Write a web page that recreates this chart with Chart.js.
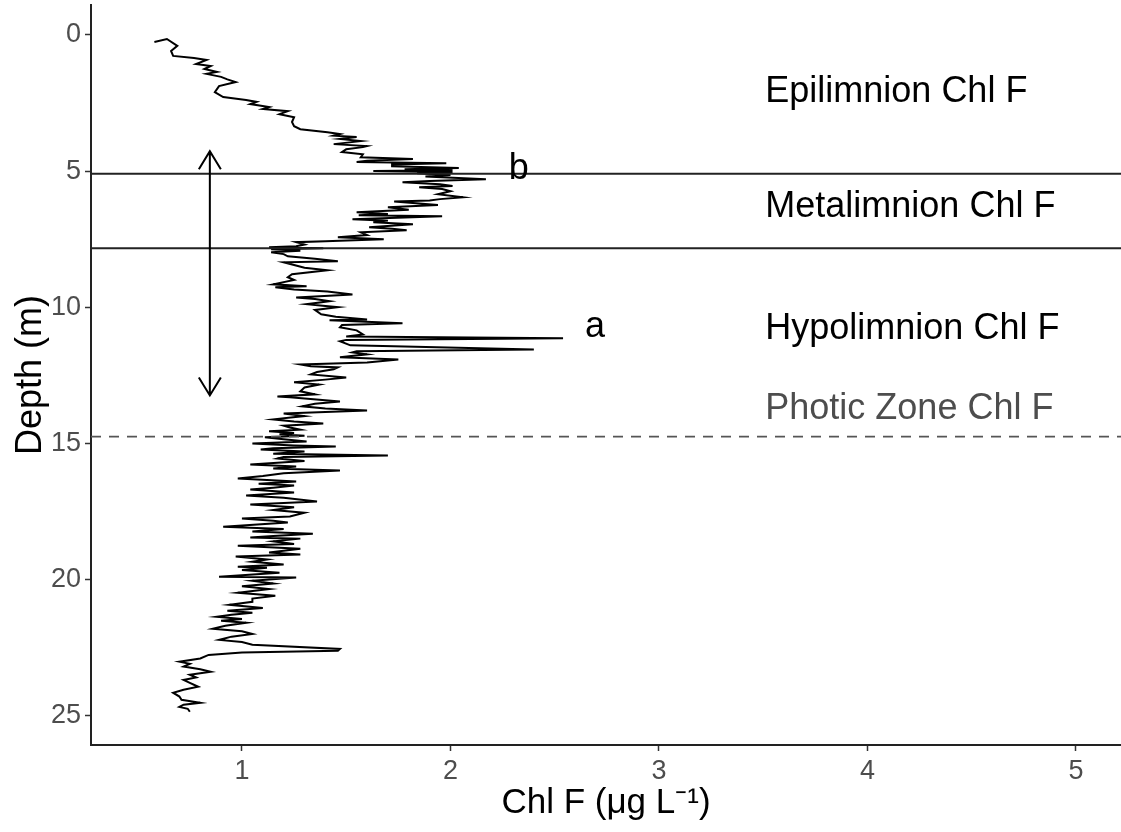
<!DOCTYPE html>
<html>
<head>
<meta charset="utf-8">
<script src="https://cdn.jsdelivr.net/npm/chart.js@4.4.1/dist/chart.umd.min.js"></script>
<style>
  html, body { margin: 0; padding: 0; background: #fff; }
  #wrap { width: 1121px; height: 832px; }
</style>
</head>
<body>
<div id="wrap"><canvas id="profil"></canvas></div>
<script>
// Chl F profile (depth in m, Chl F in ug/L)
const depth = [
  0.26, 0.15, 0.40, 0.59, 0.77, 0.85, 0.92, 1.07, 1.14, 1.25, 1.36, 1.43, 1.54, 1.63, 1.73, 1.88,
  2.10, 2.28, 2.39, 2.46, 2.54, 2.65, 2.72, 2.80, 2.91, 3.02, 3.20, 3.35, 3.46, 3.57, 3.64, 3.70,
  3.75, 3.82, 3.90, 4.01, 4.08, 4.12, 4.20, 4.30, 4.38, 4.49, 4.56, 4.62, 4.67, 4.71, 4.76, 4.82,
  4.89, 4.93, 4.97, 5.00, 5.04, 5.08, 5.14, 5.20, 5.30, 5.36, 5.41, 5.48, 5.55, 5.59, 5.66, 5.74,
  5.85, 5.96, 6.03, 6.08, 6.12, 6.25, 6.33, 6.42, 6.51, 6.58, 6.62, 6.66, 6.77, 6.82, 6.88, 6.95,
  7.06, 7.12, 7.17, 7.25, 7.35, 7.43, 7.50, 7.58, 7.61, 7.70, 7.76, 7.80, 7.83, 7.87, 7.93, 7.98,
  8.05, 8.13, 8.22, 8.31, 8.35, 8.45, 8.55, 8.64, 8.79, 8.90, 9.00, 9.16, 9.23, 9.27, 9.35, 9.42,
  9.53, 9.64, 9.70, 9.78, 9.89, 10.00, 10.10, 10.26, 10.35, 10.45, 10.48, 10.59, 10.65, 10.74, 10.85, 11.00,
  11.08, 11.14, 11.20, 11.25, 11.40, 11.55, 11.62, 11.66, 11.73, 11.84, 11.92, 12.03, 12.10, 12.17, 12.21, 12.28,
  12.38, 12.47, 12.58, 12.66, 12.76, 12.84, 12.95, 13.09, 13.20, 13.28, 13.31, 13.46, 13.55, 13.64, 13.72, 13.79,
  13.90, 14.00, 14.12, 14.20, 14.27, 14.35, 14.42, 14.50, 14.56, 14.62, 14.67, 14.72, 14.78, 14.85, 14.93, 15.01,
  15.08, 15.12, 15.18, 15.23, 15.30, 15.38, 15.45, 15.50, 15.56, 15.65, 15.78, 15.85, 15.92, 16.00, 16.10, 16.20,
  16.29, 16.40, 16.48, 16.55, 16.63, 16.70, 16.81, 16.92, 17.00, 17.14, 17.25, 17.35, 17.45, 17.55, 17.69, 17.76,
  17.84, 17.91, 18.06, 18.15, 18.24, 18.32, 18.40, 18.46, 18.50, 18.60, 18.70, 18.76, 18.87, 19.01, 19.08, 19.16,
  19.27, 19.35, 19.45, 19.53, 19.57, 19.65, 19.75, 19.90, 19.93, 20.05, 20.15, 20.25, 20.35, 20.49, 20.60, 20.70,
  20.82, 20.93, 21.05, 21.15, 21.22, 21.30, 21.37, 21.45, 21.52, 21.59, 21.70, 21.81, 21.90, 22.00, 22.10, 22.22,
  22.30, 22.40, 22.55, 22.62, 22.68, 22.77, 22.90, 23.02, 23.10, 23.20, 23.30, 23.39, 23.50, 23.60, 23.69, 23.80,
  23.94, 24.05, 24.16, 24.30, 24.42, 24.53, 24.60, 24.68, 24.75, 24.86
];
const chl = [
  0.58, 0.64, 0.69, 0.66, 0.67, 0.77, 0.83, 0.78, 0.85, 0.82, 0.88, 0.83, 0.90, 0.93, 0.97, 0.89,
  0.87, 0.91, 1.02, 1.07, 1.04, 1.13, 1.10, 1.22, 1.18, 1.25, 1.24, 1.25, 1.28, 1.41, 1.47, 1.44,
  1.55, 1.47, 1.57, 1.44, 1.60, 1.58, 1.50, 1.48, 1.58, 1.57, 1.82, 1.60, 1.55, 1.98, 1.72, 1.72,
  2.04, 1.78, 2.01, 1.63, 2.01, 1.84, 2.00, 1.88, 2.17, 1.90, 1.77, 1.95, 2.01, 1.85, 1.96, 2.00,
  1.94, 2.06, 1.95, 1.90, 1.73, 1.94, 1.70, 1.80, 1.55, 1.70, 1.56, 1.96, 1.53, 1.70, 1.63, 1.82,
  1.61, 1.72, 1.79, 1.57, 1.60, 1.46, 1.68, 1.40, 1.26, 1.30, 1.26, 1.13, 1.39, 1.14, 1.28, 1.14,
  1.20, 1.22, 1.35, 1.46, 1.20, 1.25, 1.30, 1.41, 1.24, 1.22, 1.25, 1.15, 1.31, 1.16, 1.25, 1.41,
  1.53, 1.26, 1.35, 1.42, 1.31, 1.46, 1.35, 1.38, 1.45, 1.60, 1.42, 1.77, 1.48, 1.47, 1.55, 1.58,
  1.50, 2.54, 1.50, 1.47, 1.52, 2.40, 1.55, 1.53, 1.60, 1.47, 1.75, 1.60, 1.28, 1.33, 1.46, 1.44,
  1.36, 1.33, 1.50, 1.40, 1.25, 1.37, 1.30, 1.28, 1.35, 1.17, 1.23, 1.47, 1.35, 1.29, 1.40, 1.60,
  1.20, 1.30, 1.15, 1.25, 1.39, 1.20, 1.23, 1.28, 1.13, 1.25, 1.18, 1.30, 1.11, 1.20, 1.31, 1.05,
  1.25, 1.45, 1.15, 1.09, 1.30, 1.15, 1.70, 1.20, 1.17, 1.30, 1.04, 1.26, 1.15, 1.47, 1.20, 1.10,
  0.98, 1.26, 1.08, 1.25, 1.15, 1.04, 1.25, 1.02, 1.20, 1.36, 1.04, 1.25, 1.15, 1.30, 1.23, 1.00,
  1.15, 1.22, 0.91, 1.20, 1.05, 1.34, 1.15, 1.04, 1.28, 1.15, 1.25, 0.98, 1.28, 1.13, 1.28, 0.97,
  1.12, 1.05, 1.20, 0.98, 1.12, 1.00, 1.18, 0.89, 1.26, 1.05, 1.15, 1.00, 1.13, 0.98, 1.16, 1.05,
  1.05, 0.94, 1.10, 0.93, 1.05, 0.95, 0.88, 1.00, 0.90, 1.02, 0.92, 0.86, 1.00, 1.05, 0.95, 0.89,
  1.00, 1.05, 1.47, 1.46, 1.00, 0.84, 0.80, 0.70, 0.75, 0.72, 0.80, 0.85, 0.75, 0.78, 0.72, 0.75,
  0.79, 0.72, 0.67, 0.70, 0.71, 0.80, 0.72, 0.70, 0.74, 0.75
];

// layer boundaries and photic depth
const layerDepths = [5.1, 7.83];
const photicDepth = 14.75;

// double arrow
const arrowX = 0.846;
const arrowTop = 4.27;
const arrowBottom = 13.24;

// texts
const zoneNames = ["Epilimnion Chl F", "Metalimnion Chl F", "Hypolimnion Chl F", "Photic Zone Chl F"];
const zoneDepths = [2.1, 6.33, 10.81, 13.75];
const zoneX = 3.51;
const peakNames = ["b", "a"];
const peakX = [2.28, 2.645];
const peakDepths = [4.93, 10.74];

const xTicks = [1, 2, 3, 4, 5];
const yTicks = [0, 5, 10, 15, 20, 25];
const xMin = 0.276, xMax = 5.216;
const yMin = -1.1, yMax = 26.08;

const FONT = "'Liberation Sans', Arial, sans-serif";

let profil = depth.map((d, i) => ({x: chl[i], y: d}));

function hline(v) {
  return [{x: xMin, y: v}, {x: xMax, y: v}];
}

let datasets = [
  { data: hline(layerDepths[0]), borderColor: '#222', borderWidth: 2 },
  { data: hline(layerDepths[1]), borderColor: '#222', borderWidth: 2 },
  { data: hline(photicDepth), borderColor: '#555', borderWidth: 1.8, borderDash: [10, 8] },
  { data: profil, borderColor: '#000', borderWidth: 2 }
];
datasets.forEach(ds => { ds.showLine = true; ds.pointRadius = 0; ds.fill = false; ds.tension = 0; });

/* pile og tekst */
const annot = {
  id: 'annot',
  afterDatasetsDraw(chart) {
    const {ctx, scales} = chart;
    const x = scales.x, y = scales.y;
    ctx.save();
    let ax = x.getPixelForValue(arrowX);
    let at = y.getPixelForValue(arrowTop);
    let ab = y.getPixelForValue(arrowBottom);
    ctx.strokeStyle = '#000';
    ctx.lineWidth = 2;
    ctx.beginPath();
    ctx.moveTo(ax, at); ctx.lineTo(ax, ab);
    ctx.moveTo(ax - 11, at + 18); ctx.lineTo(ax, at); ctx.lineTo(ax + 11, at + 18);
    ctx.moveTo(ax - 11, ab - 18); ctx.lineTo(ax, ab); ctx.lineTo(ax + 11, ab - 18);
    ctx.stroke();

    ctx.font = "36px " + FONT;
    ctx.textAlign = 'left';
    ctx.textBaseline = 'middle';
    for (let i = 0; i < zoneNames.length; i++) {
      ctx.fillStyle = i == 3 ? '#4d4d4d' : '#000';
      ctx.fillText(zoneNames[i], x.getPixelForValue(zoneX), y.getPixelForValue(zoneDepths[i]));
    }
    ctx.fillStyle = '#000';
    for (let i = 0; i < peakNames.length; i++) {
      ctx.fillText(peakNames[i], x.getPixelForValue(peakX[i]), y.getPixelForValue(peakDepths[i]));
    }
    ctx.restore();
  }
};

const config = {
  type: 'scatter',
  data: { datasets: datasets },
  options: {
    responsive: true,
    maintainAspectRatio: false,
    animation: false,
    layout: { padding: { top: 5, right: 0, left: 0, bottom: 0 } },
    plugins: { legend: { display: false }, tooltip: { enabled: false } },
    scales: {
      x: {
        type: 'linear',
        min: xMin, max: xMax,
        afterFit(s) { s.height = 87; s.paddingLeft = 0; s.paddingRight = 0; },
        afterBuildTicks(s) { s.ticks = xTicks.map(v => ({value: v})); },
        border: { display: true, color: '#222', width: 2 },
        grid: { drawOnChartArea: false, tickLength: 6, tickColor: '#333', tickWidth: 1.5 },
        ticks: { color: '#4d4d4d', padding: 4, font: { family: FONT, size: 27 }, maxRotation: 0 },
        title: { display: true, text: 'Chl F (μg L⁻¹)', color: '#000', padding: { top: 0, bottom: 8 },
                 font: { family: FONT, size: 35, lineHeight: 1.2 } }
      },
      y: {
        type: 'linear',
        reverse: true,
        min: yMin, max: yMax,
        afterFit(s) { s.width = 91; s.paddingTop = 0; s.paddingBottom = 0; },
        afterBuildTicks(s) { s.ticks = yTicks.map(v => ({value: v})); },
        border: { display: true, color: '#222', width: 2 },
        grid: { drawOnChartArea: false, tickLength: 6, tickColor: '#333', tickWidth: 1.5 },
        ticks: { color: '#4d4d4d', padding: 4, font: { family: FONT, size: 27 } },
        title: { display: true, text: 'Depth (m)', color: '#000', padding: { top: 9, bottom: 0 },
                 font: { family: FONT, size: 36, lineHeight: 1.2 } }
      }
    }
  },
  plugins: [annot]
};

window.onload = function () {
  new Chart(document.getElementById('profil'), config);
};
</script>
</body>
</html>
